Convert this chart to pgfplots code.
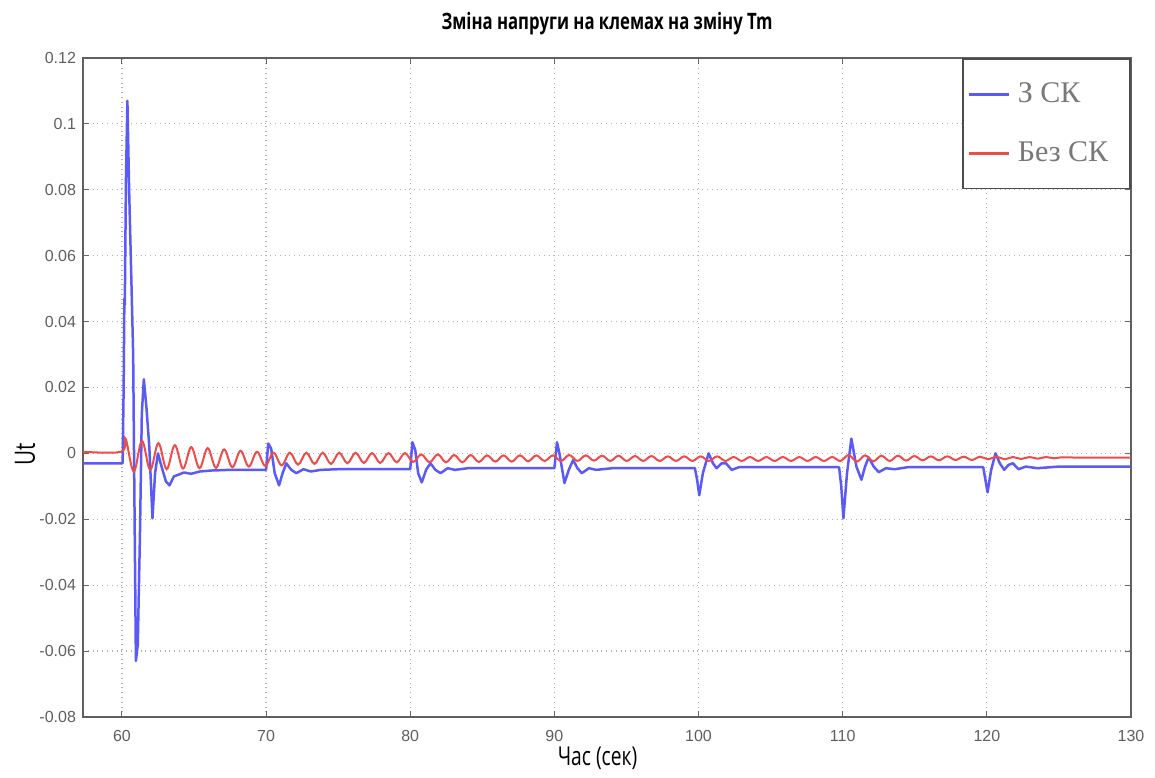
\documentclass[border=0pt]{standalone}
\usepackage{pgfplots}
\pgfplotsset{compat=1.18}
\usepackage{fontspec}
\setmainfont{Liberation Sans}
\newfontfamily\titlefont[FakeStretch=0.74]{Open Sans}
\newfontfamily\legfont{Liberation Serif}
\definecolor{cblue}{RGB}{90,90,245}
\definecolor{cred}{RGB}{238,75,75}
\definecolor{tickgray}{RGB}{95,95,95}
\definecolor{leggray}{RGB}{120,120,120}
\begin{document}
\begin{tikzpicture}
\begin{axis}[name=ax, scale only axis, width=524pt, height=329.5pt,
  xmin=57.3, xmax=130, ymin=-0.08, ymax=0.12,
  xtick={60,70,80,90,100,110,120,130},
  xticklabels={60,70,80,90,100,110,120,130},
  ytick={-0.08,-0.06,-0.04,-0.02,0,0.02,0.04,0.06,0.08,0.1,0.12},
  yticklabels={-0.08,-0.06,-0.04,-0.02,0,0.02,0.04,0.06,0.08,0.1,0.12},
  grid=major, major grid style={dotted, gray!60, line width=0.6pt},
  axis line style={gray!75!black, line width=0.8pt},
  tick style={gray!80!black, line width=0.5pt}, tick align=inside, major tick length=3pt,
  ticklabel style={font=\fontsize{8}{9}\selectfont, text=tickgray},
  xticklabel style={yshift=-3pt},
  every axis title shift=0pt,
  title={Зміна напруги на клемах на зміну Tm},
  title style={font=\titlefont\bfseries\fontsize{11.3}{13}\selectfont, at={(axis description cs:0.5,1.0516)}, anchor=center},
  xlabel={Час (сек)},
  xlabel style={font=\titlefont\fontsize{13}{15}\selectfont, at={(axis description cs:0.491,-0.062)}, anchor=center},
  ylabel={Ut},
  ylabel style={font=\titlefont\fontsize{14}{16}\selectfont, at={(axis description cs:-0.0553,0.398)}, anchor=center, rotate=0},
  legend style={at={(axis description cs:1,1)}, anchor=north east, draw=gray!60!black, line width=0.8pt, fill=white,
    font=\legfont\fontsize{15}{17}\selectfont, text=leggray, inner xsep=2pt, inner ysep=10pt, row sep=14pt},
  legend cell align=left,
  legend image code/.code={\draw[#1, line width=1.5pt] (0pt,0pt) -- (20pt,0pt); \path (22pt,0pt);},
]
\addplot[cblue, line width=1.25pt, line join=round] coordinates {
(57.3,-0.003) (60.05,-0.003) (60.12,0.02) (60.17,0.047) (60.2,0.045) (60.28,0.083) (60.38,0.107)
(60.5,0.08) (60.67,0.05) (60.78,0.03) (60.88,-0.02) (60.97,-0.063) (61.1,-0.058) (61.25,-0.025)
(61.38,0.012) (61.52,0.0225) (61.7,0.014) (61.9,0.002) (62.12,-0.0197) (62.3,-0.006) (62.5,0.0)
(62.75,-0.004) (63.05,-0.0085) (63.3,-0.0097) (63.6,-0.007) (63.9,-0.0065) (64.3,-0.0058) (64.8,-0.0062)
(65.4,-0.0055) (66.2,-0.0052) (67.5,-0.005) (70.0,-0.005)
(70.15,0.003) (70.35,0.0015) (70.6,-0.006) (70.9,-0.0097) (71.15,-0.006) (71.4,-0.003) (71.75,-0.005)
(72.1,-0.006) (72.6,-0.0048) (73.1,-0.0055) (73.8,-0.005) (75,-0.0048) (80.0,-0.0048)
(80.15,0.0034) (80.35,0.001) (80.55,-0.006) (80.8,-0.0088) (81.1,-0.005) (81.4,-0.003) (81.75,-0.005)
(82.1,-0.006) (82.6,-0.0045) (83.1,-0.005) (84,-0.0045) (90.0,-0.0045)
(90.18,0.0034) (90.35,0.0) (90.7,-0.009) (91.0,-0.005) (91.3,-0.002) (91.6,-0.0045) (91.9,-0.006)
(92.4,-0.0045) (92.9,-0.005) (94,-0.0045) (99.75,-0.0045)
(99.9,-0.008) (100.05,-0.0127) (100.3,-0.006) (100.7,0.0) (101.0,-0.003) (101.25,-0.0045) (101.6,-0.003)
(101.9,-0.003) (102.3,-0.005) (102.8,-0.0042) (109.75,-0.0042)
(109.9,-0.01) (110.05,-0.0197) (110.3,-0.006) (110.6,0.0045) (110.95,-0.004) (111.3,-0.008) (111.55,-0.004)
(111.8,-0.0012) (112.15,-0.004) (112.5,-0.0057) (113,-0.0045) (113.6,-0.0048) (114.5,-0.0042) (119.75,-0.0042)
(119.9,-0.008) (120.05,-0.0118) (120.3,-0.005) (120.6,0.0) (120.9,-0.003) (121.2,-0.005) (121.5,-0.0035)
(121.8,-0.003) (122.2,-0.0048) (122.7,-0.004) (123.5,-0.0045) (125,-0.004) (130,-0.004)
};
\addlegendentry{З СК\rule{7pt}{0pt}}
\addplot[cred, line width=1pt, smooth, tension=0.6] coordinates {
(57.3,0.0005) (59.95,0.0005)
(60.25,0.0045) (60.82,-0.0055) (61.39,0.0038) (61.96,-0.005) (62.53,0.0031) (63.10,-0.0048)
(63.67,0.0025) (64.24,-0.0046) (64.81,0.0019) (65.38,-0.0045) (65.95,0.0016) (66.52,-0.0044)
(67.09,0.0012) (67.66,-0.0042) (68.23,0.0008) (68.80,-0.004) (69.37,0.0005) (69.94,-0.0038)
(70.51,0.0002) (71.08,-0.0036) (71.65,0.0002) (72.22,-0.0034) (72.79,0.0002) (73.36,-0.0032)
(73.93,0.0002) (74.50,-0.0032) (75.07,0.0002) (75.64,-0.003) (76.21,0.0002) (76.78,-0.0029)
(77.35,0.0001) (77.92,-0.0029) (78.49,0.0001) (79.06,-0.0027) (79.63,0.0001) (80.20,-0.0026)
(80.77,-0.0003) (81.34,-0.0027) (81.91,-0.0003) (82.48,-0.0027) (83.05,-0.0005) (83.62,-0.0027)
(84.19,-0.0005) (84.76,-0.0026) (85.33,-0.0006) (85.90,-0.0025) (86.47,-0.0006) (87.04,-0.0025)
(87.61,-0.0006) (88.18,-0.0024) (88.75,-0.0006) (89.32,-0.0023) (89.89,-0.0006) (90.46,-0.0023)
(91.03,-0.0005) (91.60,-0.0023) (92.17,-0.0006) (92.74,-0.0022) (93.31,-0.0007) (93.88,-0.0023)
(94.45,-0.0007) (95.02,-0.0023) (95.59,-0.0008) (96.16,-0.0023) (96.73,-0.0008) (97.30,-0.0023)
(97.87,-0.0009) (98.44,-0.0023) (99.01,-0.0009) (99.58,-0.0023) (100.15,-0.0009) (100.72,-0.0023)
(101.29,-0.0009) (101.86,-0.0023) (102.43,-0.0011) (103.00,-0.0023) (103.57,-0.0011) (104.14,-0.0023)
(104.71,-0.0011) (105.28,-0.0023) (105.85,-0.0011) (106.42,-0.0023) (106.99,-0.0011) (107.56,-0.0023)
(108.13,-0.0011) (108.70,-0.0023) (109.27,-0.0011) (109.84,-0.0023) (110.41,-0.0005) (110.98,-0.0025)
(111.55,-0.0006) (112.12,-0.0024) (112.69,-0.0007) (113.26,-0.0023) (113.83,-0.0007) (114.40,-0.0022)
(114.97,-0.0008) (115.54,-0.0021) (116.11,-0.0009) (116.68,-0.0021) (117.25,-0.0009) (117.82,-0.0020)
(118.39,-0.0010) (118.96,-0.0020) (119.53,-0.0010) (120.10,-0.0018) (120.67,-0.0010) (121.24,-0.0018)
(121.81,-0.0011) (122.38,-0.0017) (122.95,-0.0011) (123.52,-0.0016) (124.09,-0.0011) (124.66,-0.0015)
(125.23,-0.0012) (126.5,-0.0013) (128,-0.0013) (130,-0.0013)
};
\addlegendentry{Без СК\rule{7pt}{0pt}}
\end{axis}
\path ([shift={(-41.5pt,-30.5pt)}]ax.south west) rectangle ([shift={(12pt,29pt)}]ax.north east);
\end{tikzpicture}
\end{document}
